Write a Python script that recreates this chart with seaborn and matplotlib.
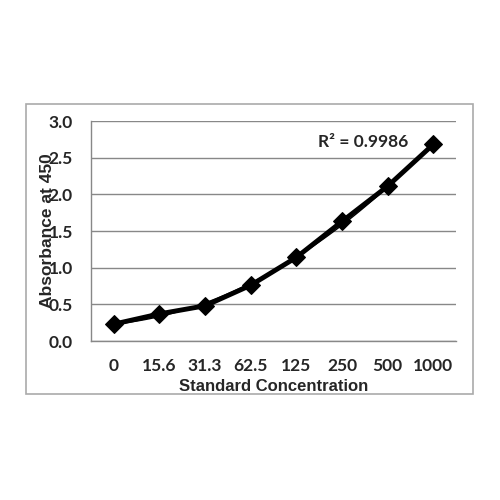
import matplotlib
matplotlib.use('Agg')
import matplotlib.pyplot as plt
import matplotlib.patches as mpatches
import seaborn as sns
import numpy as np

concentration = ['0', '15.6', '31.3', '62.5', '125', '250', '500', '1000']
absorbance = [0.23, 0.37, 0.48, 0.76, 1.14, 1.63, 2.11, 2.68]
r2_label = 'R² = 0.9986'

sns.set_style('white')
plt.rcParams['font.family'] = ['Lato', 'DejaVu Sans']

fig = plt.figure(figsize=(5, 5), dpi=100)
ax = fig.add_axes([0.182, 0.318, 0.73, 0.44])

pos = np.arange(len(concentration))

# trendline (2nd order polynomial), thin
sns.regplot(x=pos, y=absorbance, order=2, ci=None, scatter=False, ax=ax,
            line_kws={'color': 'black', 'linewidth': 1.0})
# data line
sns.lineplot(x=pos, y=absorbance, ax=ax, color='black', linewidth=3.5,
             marker='D', markersize=9, markeredgecolor='black')

ax.set_xlim(-0.5, 7.5)
ax.set_ylim(0, 3.0)
ax.set_yticks(np.arange(0, 3.01, 0.5))
ax.set_yticklabels([f'{v:.1f}' for v in np.arange(0, 3.01, 0.5)],
                   fontsize=12.5, fontweight='bold')
ax.set_xticks(pos)
ax.set_xticklabels(concentration, fontsize=12.5, fontweight='bold')
ax.set_xticks(np.arange(-0.5, 8, 1), minor=True)
ax.tick_params(axis='x', which='major', length=0, pad=12)
ax.tick_params(axis='x', which='minor', length=5, color='#888888', direction='out')
ax.tick_params(axis='y', length=5, color='#888888', direction='out', pad=8)

ax.grid(axis='y', color='#888888', linewidth=1)
ax.set_axisbelow(True)
for s in ['top', 'right']:
    ax.spines[s].set_visible(False)
for s in ['left', 'bottom']:
    ax.spines[s].set_color('#888888')
    ax.spines[s].set_linewidth(1)

ax.set_xlabel('Standard Concentration', fontsize=12, fontweight='bold',
              family=['Liberation Sans', 'DejaVu Sans'], labelpad=4)
ax.set_ylabel('Absorbance at 450', fontsize=12.5, fontweight='bold',
              family=['Liberation Sans', 'DejaVu Sans'])
ax.yaxis.set_label_coords(-0.098, 0.5)

ax.text(0.87, 0.905, r2_label, transform=ax.transAxes, fontsize=12.5,
        fontweight='bold', ha='right', va='center')

# outer chart border
fig.patches.append(mpatches.Rectangle((0.052, 0.212), 0.894, 0.58,
                                      transform=fig.transFigure, fill=False,
                                      edgecolor='#aaaaaa', linewidth=1.2))

fig.savefig('out.png', dpi=100)
